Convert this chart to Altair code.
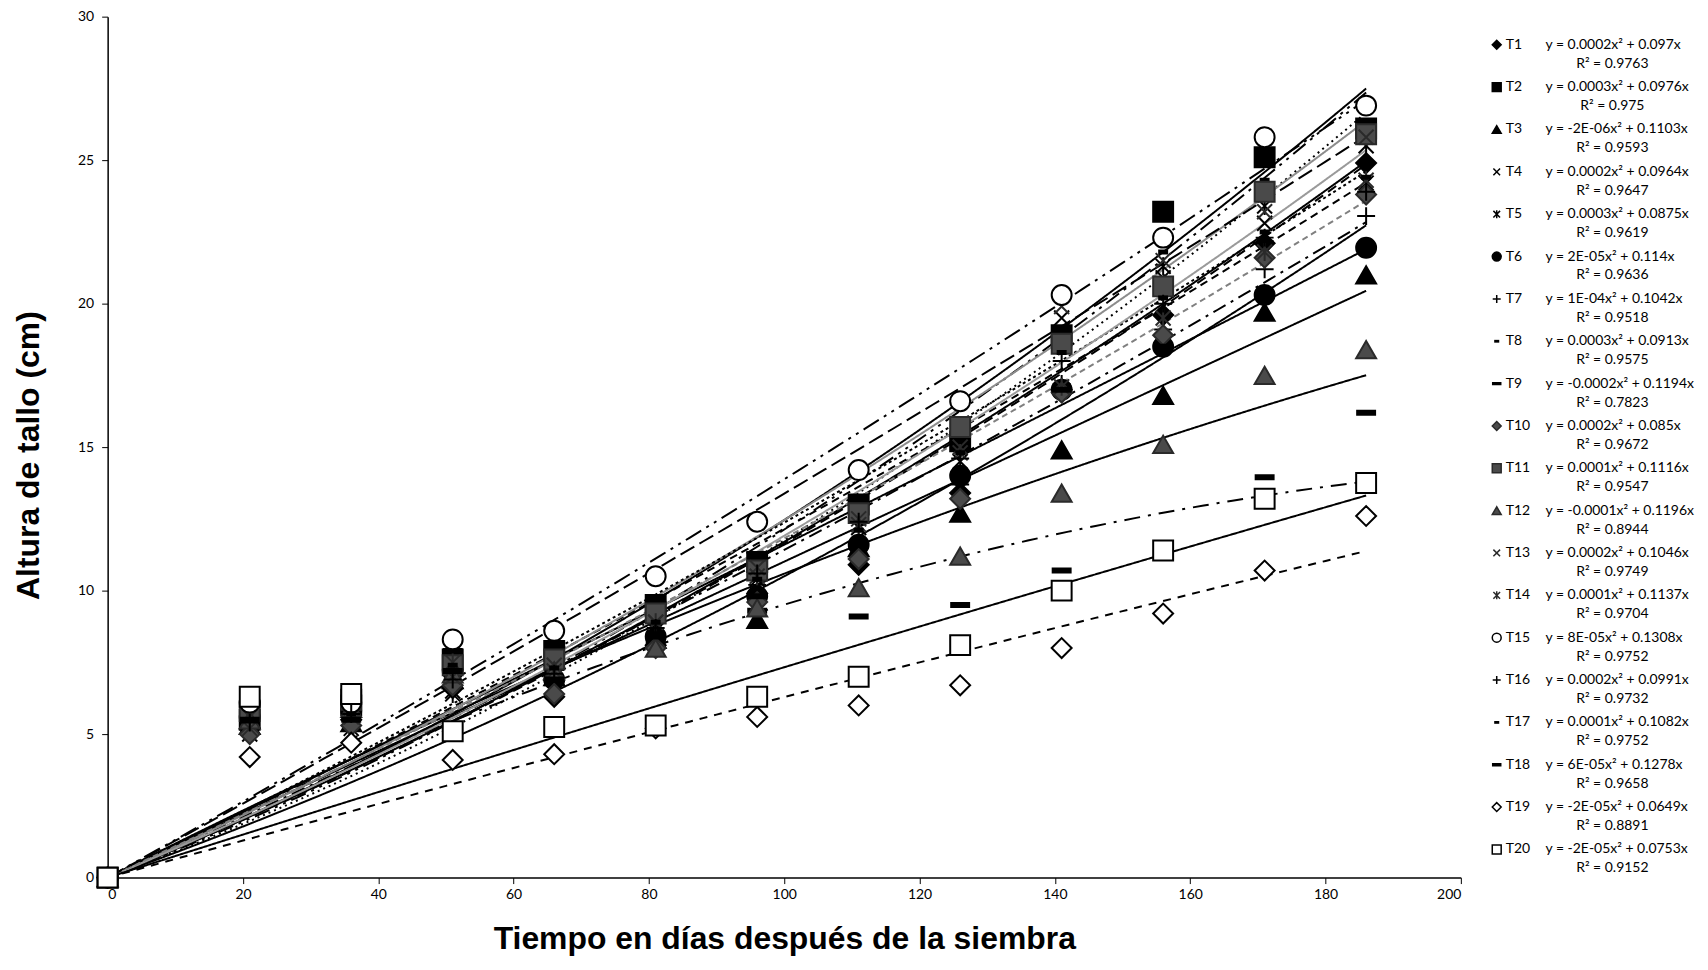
import altair as alt
import pandas as pd
import numpy as np

series = [f"T{i}" for i in range(1, 21)]
days = [0, 21, 36, 51, 66, 81, 96, 111, 126, 141, 156, 171, 186]

h_T1 = [0, 5.2, 5.5, 6.6, 6.3, 8.1, 9.9, 10.9, 13.4, 17.0, 19.6, 22.1, 24.9]
h_T2 = [0, 5.5, 6.0, 7.6, 7.9, 9.5, 11.0, 13.0, 15.2, 18.9, 23.2, 25.1, 26.1]
h_T3 = [0, 5.3, 5.4, 6.9, 7.0, 8.3, 9.0, 11.5, 12.7, 14.9, 16.8, 19.7, 21.0]
h_T4 = [0, 5.0, 5.0, 6.5, 7.1, 8.6, 10.4, 12.2, 14.5, 19.5, 20.9, 22.8, 24.2]
h_T5 = [0, 5.4, 5.2, 6.4, 7.5, 8.8, 10.9, 12.8, 15.1, 18.7, 21.3, 23.4, 25.5]
h_T6 = [0, 5.6, 5.8, 7.2, 6.9, 8.4, 9.8, 11.6, 14.0, 17.0, 18.5, 20.3, 21.95]
h_T7 = [0, 5.1, 5.5, 6.8, 7.0, 8.5, 10.2, 11.7, 13.7, 17.2, 19.1, 21.2, 23.05]
h_T8 = [0, 5.7, 6.0, 7.8, 7.8, 9.6, 11.2, 13.1, 15.6, 19.1, 21.8, 24.3, 26.3]
h_T9 = [0, 6.4, 6.6, 7.9, 7.3, 8.2, 9.3, 9.1, 9.5, 10.7, 11.5, 13.95, 16.2]
h_T10 = [0, 5.0, 5.3, 6.7, 6.4, 8.0, 9.6, 11.1, 13.2, 16.9, 18.9, 21.6, 23.8]
h_T11 = [0, 5.8, 6.2, 7.4, 7.6, 9.2, 10.7, 12.7, 15.7, 18.6, 20.6, 23.9, 25.9]
h_T12 = [0, 5.5, 5.9, 7.1, 7.2, 8.0, 9.4, 10.1, 11.2, 13.4, 15.1, 17.5, 18.4]
h_T13 = [0, 5.2, 5.6, 7.0, 7.4, 8.9, 10.8, 12.5, 15.0, 19.9, 21.5, 23.2, 25.8]
h_T14 = [0, 5.6, 5.9, 7.5, 7.2, 8.9, 10.5, 12.3, 14.8, 17.1, 19.5, 21.8, 24.3]
h_T15 = [0, 6.1, 6.1, 8.3, 8.6, 10.5, 12.4, 14.2, 16.6, 20.3, 22.3, 25.8, 26.9]
h_T16 = [0, 5.4, 5.7, 6.9, 7.1, 8.7, 10.6, 12.4, 14.6, 18.0, 20.0, 22.3, 23.9]
h_T17 = [0, 5.5, 5.7, 7.4, 7.3, 8.9, 10.4, 12.1, 14.8, 18.3, 20.2, 22.5, 24.4]
h_T18 = [0, 5.5, 5.5, 7.2, 6.9, 8.4, 9.8, 11.6, 14.0, 17.0, 18.5, 20.3, 21.95]
h_T19 = [0, 4.2, 4.7, 4.1, 4.3, 5.2, 5.6, 6.0, 6.7, 8.0, 9.2, 10.7, 12.6]
h_T20 = [0, 6.3, 6.4, 5.1, 5.25, 5.3, 6.3, 7.0, 8.1, 10.0, 11.4, 13.2, 13.75]

heights = [h_T1, h_T2, h_T3, h_T4, h_T5, h_T6, h_T7, h_T8, h_T9, h_T10,
           h_T11, h_T12, h_T13, h_T14, h_T15, h_T16, h_T17, h_T18, h_T19, h_T20]

coef_a = [0.0002, 0.00027, -0.000002, 0.0002, 0.0003, 0.00002, 0.0001, 0.0003,
          -0.000243, 0.0002, 0.0001, -0.000137, 0.0002, 0.0001, 0.00008, 0.0002,
          0.0001, 0.00006, -0.00002, -0.00002]
coef_b = [0.097, 0.0976, 0.1103, 0.0964, 0.0875, 0.114, 0.1042, 0.0913, 0.1194,
          0.085, 0.1116, 0.1196, 0.1046, 0.1137, 0.1308, 0.0991, 0.1082, 0.1278,
          0.0649, 0.0753]

eq_labels = ["y = 0.0002x² + 0.097x", "y = 0.0003x² + 0.0976x", "y = -2E-06x² + 0.1103x",
             "y = 0.0002x² + 0.0964x", "y = 0.0003x² + 0.0875x", "y = 2E-05x² + 0.114x",
             "y = 1E-04x² + 0.1042x", "y = 0.0003x² + 0.0913x", "y = -0.0002x² + 0.1194x",
             "y = 0.0002x² + 0.085x", "y = 0.0001x² + 0.1116x", "y = -0.0001x² + 0.1196x",
             "y = 0.0002x² + 0.1046x", "y = 0.0001x² + 0.1137x", "y = 8E-05x² + 0.1308x",
             "y = 0.0002x² + 0.0991x", "y = 0.0001x² + 0.1082x", "y = 6E-05x² + 0.1278x",
             "y = -2E-05x² + 0.0649x", "y = -2E-05x² + 0.0753x"]
r2_labels = ["R² = 0.9763", "R² = 0.975", "R² = 0.9593", "R² = 0.9647", "R² = 0.9619",
             "R² = 0.9636", "R² = 0.9518", "R² = 0.9575", "R² = 0.7823", "R² = 0.9672",
             "R² = 0.9547", "R² = 0.8944", "R² = 0.9749", "R² = 0.9704", "R² = 0.9752",
             "R² = 0.9732", "R² = 0.9752", "R² = 0.9658", "R² = 0.8891", "R² = 0.9152"]

# ---- styles ----
DIA, SQ, TRI, CIR = "diamond", "square", "triangle-up", "circle"
XP = "M-0.75,-0.75L0.75,0.75M-0.75,0.75L0.75,-0.75"
STAR = "M-0.75,-0.75L0.75,0.75M-0.75,0.75L0.75,-0.75M0,-0.9L0,0.9"
PLUS = "M-0.9,0L0.9,0M0,-0.9L0,0.9"
SDASH = "M-0.4,-0.15L0.4,-0.15L0.4,0.15L-0.4,0.15Z"
LDASH = "M-0.9,-0.2L0.9,-0.2L0.9,0.2L-0.9,0.2Z"
marker_shapes = [DIA, SQ, TRI, XP, STAR, CIR, PLUS, SDASH, LDASH, DIA,
                 SQ, TRI, XP, STAR, CIR, PLUS, SDASH, LDASH, DIA, SQ]
marker_fill = ["#000000"] * 9 + ["#4a4a4a"] * 5 + ["#ffffff", "#000000", "#000000", "#000000", "#ffffff", "#ffffff"]
marker_stroke = ["#000000"] * 9 + ["#2a2a2a"] * 5 + ["#000000"] * 6

line_color = ["#000", "#000", "#000", "#000", "#000", "#000", "#000", "#000", "#000", "#000",
              "#000", "#000", "#8c8c8c", "#000", "#000", "#9a9a9a", "#808080", "#000", "#000", "#000"]
line_dash = [[1, 0], [1, 0], [1, 0], [10, 6], [2, 4], [1, 0], [14, 6, 3, 6], [16, 6, 3, 6, 3, 6],
             [16, 8, 3, 8], [1, 0], [8, 5], [1, 0], [1, 0], [3, 3], [18, 6, 3, 6, 3, 6],
             [1, 0], [6, 4], [16, 6], [8, 7], [1, 0]]
line_width = [2, 2, 2, 2, 2, 2, 2, 2, 2, 2, 2, 2, 1.5, 2, 2, 1.5, 1.5, 2, 2, 2]

# ---- tables ----
pts = pd.DataFrame([
    {"series": s, "day": d, "height": h}
    for s, hs in zip(series, heights) for d, h in zip(days, hs)
])
xs = np.append(np.arange(0, 186, 2), 186)
trend = pd.DataFrame([
    {"series": s, "day": float(x), "height": a * x * x + b * x}
    for s, a, b in zip(series, coef_a, coef_b) for x in xs
])
leg = pd.DataFrame({"series": series, "eq": eq_labels, "r2": r2_labels})

x_enc = alt.X("day:Q", scale=alt.Scale(domain=[0, 200], nice=False),
              axis=alt.Axis(values=list(range(0, 201, 20)), grid=False,
                            title="Tiempo en días después de la siembra",
                            titleFont="Liberation Sans", titleFontWeight="bold",
                            titleFontSize=32, titleColor="#000",
                            titleY=61, titleBaseline="middle",
                            labelFont="Lato", labelFontSize=14, labelColor="#000",
                            tickColor="#000", tickSize=6, labelPadding=4,
                            domainColor="#000", domainWidth=1.5))
y_enc = alt.Y("height:Q", scale=alt.Scale(domain=[0, 30], nice=False),
              axis=alt.Axis(values=list(range(0, 31, 5)), grid=False,
                            title="Altura de tallo (cm)",
                            titleFont="Liberation Sans", titleFontWeight="bold",
                            titleFontSize=32, titleColor="#000",
                            titleX=-79, titleY=440, titleBaseline="middle",
                            titleAlign="center", titleAngle=270,
                            labelFont="Lato", labelFontSize=14, labelColor="#000",
                            tickColor="#000", tickSize=6, labelPadding=8,
                            domainColor="#000", domainWidth=1.5))

shape_sc = alt.Scale(domain=series, range=marker_shapes)
fill_sc = alt.Scale(domain=series, range=marker_fill)
stroke_sc = alt.Scale(domain=series, range=marker_stroke)

lines = alt.Chart(trend).mark_line(strokeCap="butt").encode(
    x=x_enc, y=y_enc,
    detail="series:N",
    color=alt.Color("series:N", scale=alt.Scale(domain=series, range=line_color), legend=None),
    strokeDash=alt.StrokeDash("series:N", scale=alt.Scale(domain=series, range=line_dash), legend=None),
    strokeWidth=alt.StrokeWidth("series:N", scale=alt.Scale(domain=series, range=line_width), legend=None),
)

points = alt.Chart(pts).mark_point(filled=True, size=400, strokeWidth=2, opacity=1).encode(
    x=x_enc, y=y_enc,
    shape=alt.Shape("series:N", scale=shape_sc, legend=None),
    fill=alt.Fill("series:N", scale=fill_sc, legend=None),
    stroke=alt.Stroke("series:N", scale=stroke_sc, legend=None),
)

main = alt.layer(lines, points).properties(width=1358, height=864)

ly = alt.Y("series:N", scale=alt.Scale(domain=series, type="point", padding=0.665), axis=None)
leg_sym = alt.Chart(leg).mark_point(filled=True, size=80, strokeWidth=1.5, opacity=1).encode(
    x=alt.value(16), y=ly,
    shape=alt.Shape("series:N", scale=shape_sc, legend=None),
    fill=alt.Fill("series:N", scale=fill_sc, legend=None),
    stroke=alt.Stroke("series:N", scale=stroke_sc, legend=None),
)
leg_lab = alt.Chart(leg).mark_text(align="left", baseline="middle", font="Lato",
                                   fontSize=14, color="#000").encode(
    x=alt.value(25), y=ly, text="series:N")
leg_eq = alt.Chart(leg).mark_text(align="left", baseline="middle", font="Lato",
                                  fontSize=14, color="#000").encode(
    x=alt.value(65), y=ly, text="eq:N")
leg_r2 = alt.Chart(leg).mark_text(align="center", baseline="middle", font="Lato",
                                  fontSize=14, color="#000", dy=19).encode(
    x=alt.value(132), y=ly, text="r2:N")
legend = alt.layer(leg_sym, leg_lab, leg_eq, leg_r2).properties(width=200, height=864)

chart = alt.hconcat(main, legend, spacing=20, bounds="flush").properties(
    padding={"left": 5, "right": 5, "top": 0, "bottom": 0}
).configure_view(strokeWidth=0)

chart.save("out.html", embed_options={"renderer": "svg", "actions": False})
